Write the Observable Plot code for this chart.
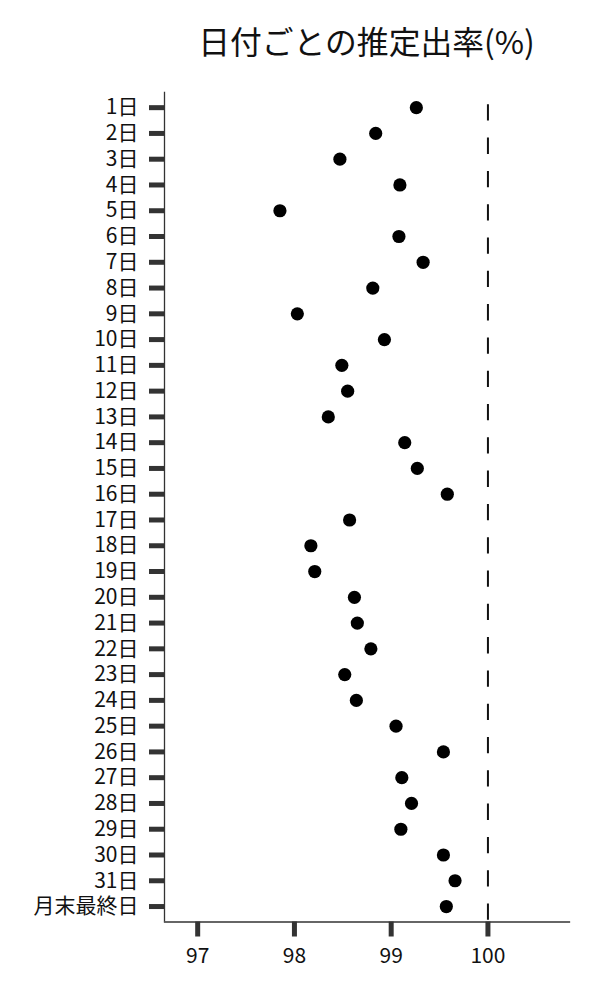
<!DOCTYPE html>
<html><head><meta charset="utf-8">
<script src="https://cdn.jsdelivr.net/npm/d3@7"></script>
<script src="https://cdn.jsdelivr.net/npm/@observablehq/plot@0.6"></script>
<style>
body{margin:0;background:#fff;font-family:"Noto Sans CJK JP",sans-serif;}
#title{width:600px;box-sizing:border-box;padding-left:164px;padding-right:31px;height:80px;line-height:81px;text-align:center;font-size:31.8px;color:#111;white-space:nowrap;}
</style></head><body>
<div id="title">日付ごとの推定出率(%)</div>
<div id="chart"></div>
<script>
const days = ["1日","2日","3日","4日","5日","6日","7日","8日","9日","10日",
  "11日","12日","13日","14日","15日","16日","17日","18日","19日","20日",
  "21日","22日","23日","24日","25日","26日","27日","28日","29日","30日","31日","月末最終日"];
const rates = [99.26,98.84,98.47,99.09,97.85,99.08,99.33,98.81,98.03,98.93,
  98.49,98.55,98.35,99.14,99.27,99.58,98.57,98.17,98.21,98.62,
  98.65,98.79,98.52,98.64,99.05,99.54,99.11,99.21,99.10,99.54,99.66,99.57];
const xTicks = [97,98,99,100];
const xDomain = [96.657,100.843];
const refValue = 100;

const data = days.map((d,i)=>({day:d, rate:rates[i]}));

const chart = Plot.plot({
  width:600, height:920,
  marginLeft:164, marginRight:31, marginTop:11.7, marginBottom:78.5,
  style:{fontFamily:'"Noto Sans CJK JP", sans-serif', fontSize:"21px", color:"#111", background:"#fff", overflow:"visible"},
  x:{domain:xDomain, label:null, round:false},
  y:{domain:days, type:"point", padding:0.6, round:false, label:null},
  marks:[
    Plot.axisY({tickSize:15, tickPadding:11, stroke:"#333", strokeWidth:5, fontSize:21, fill:"#111", label:null}),
    Plot.axisX({ticks:xTicks, tickSize:15, tickPadding:11, stroke:"#333", strokeWidth:5, fontSize:21, fill:"#111", label:null, tickFormat:d=>`${d}`}),
    Plot.ruleX([refValue], {stroke:"#111", strokeWidth:2, strokeDasharray:"16.3,17", strokeDashoffset:20.7}),
    Plot.ruleX([xDomain[0]], {stroke:"#333", strokeWidth:1.3}),
    Plot.frame({anchor:"bottom", stroke:"#333", strokeWidth:1.3}),
    Plot.dot(data, {x:"rate", y:"day", r:6.6, fill:"#000", stroke:null})
  ]
});
document.getElementById("chart").appendChild(chart);
</script>
</body></html>
